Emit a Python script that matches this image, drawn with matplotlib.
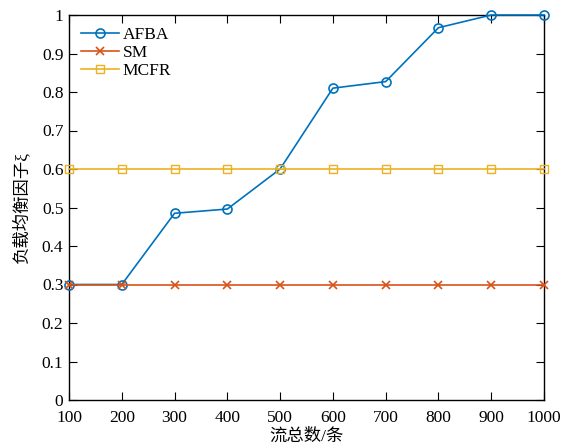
import matplotlib.pyplot as plt

plt.rcParams['font.family'] = ['Liberation Serif', 'Noto Sans CJK SC']
plt.rcParams['axes.unicode_minus'] = False

flows = [100, 200, 300, 400, 500, 600, 700, 800, 900, 1000]
afba = [0.30, 0.30, 0.485, 0.496, 0.60, 0.81, 0.827, 0.967, 1.0, 1.0]
sm = [0.30] * 10
mcfr = [0.60] * 10

fig = plt.figure(figsize=(5.75, 4.46), dpi=100)
ax = fig.add_axes([69 / 575, 46 / 446, 475 / 575, 385 / 446])

ax.plot(flows, afba, marker='o', color='#0072BD', lw=1.2, ms=6.5,
        markerfacecolor='none', mew=1.2, label='AFBA', clip_on=False, zorder=3)
ax.plot(flows, sm, marker='x', color='#D95319', lw=1.2, ms=6,
        mew=1.2, label='SM', clip_on=False, zorder=3)
ax.plot(flows, mcfr, marker='s', color='#EDB120', lw=1.2, ms=5.5,
        markerfacecolor='none', mew=1.0, label='MCFR', clip_on=False, zorder=3)

ax.set_xlim(100, 1000)
ax.set_ylim(0, 1)
ax.set_xticks(flows)
ax.set_yticks([i / 10 for i in range(11)])
ax.set_yticklabels(['0', '0.1', '0.2', '0.3', '0.4', '0.5', '0.6', '0.7', '0.8', '0.9', '1'])
ax.tick_params(direction='in', top=True, right=True, labelsize=12.5, length=6, width=0.8)
ax.tick_params(axis='x', pad=7)
ax.tick_params(axis='y', pad=4)
for s in ax.spines.values():
    s.set_linewidth(1.0)

ax.set_xlabel('流总数/条', fontsize=12.5, labelpad=2)
ax.set_ylabel('负载均衡因子ξ', fontsize=12.5, labelpad=8)

ax.legend(loc='upper left', frameon=False, fontsize=12.5, handlelength=2.2,
          handletextpad=0.2, labelspacing=0.1, borderaxespad=0.3)

fig.savefig('out.png', dpi=100)
